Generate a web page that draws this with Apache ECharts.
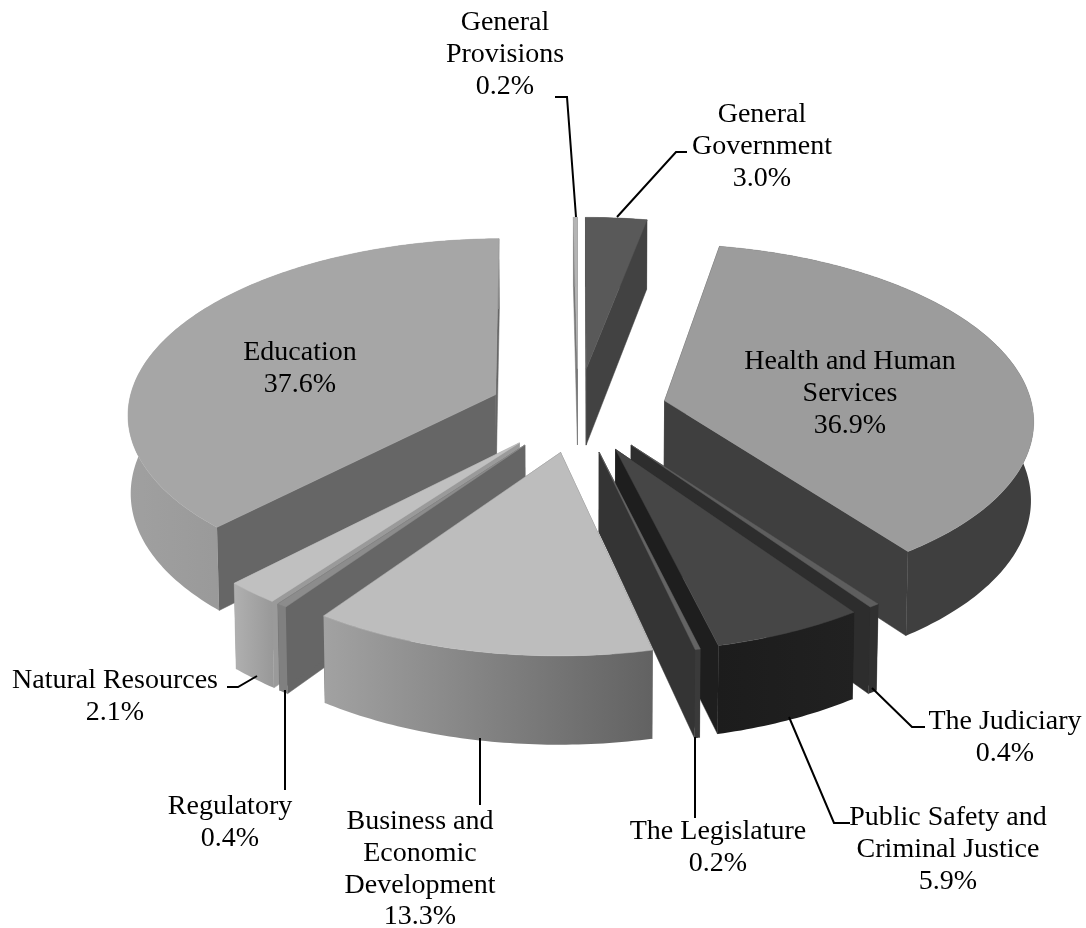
<!DOCTYPE html>
<html><head><meta charset="utf-8">
<style>html,body{margin:0;padding:0;background:#fff}#c{width:1086px;height:928px}</style>
<script src="https://cdn.jsdelivr.net/npm/echarts@6/dist/echarts.min.js"></script>
</head><body><div id="c"></div>
<script>
const categories = ['General\nGovernment','Health and Human\nServices','The Judiciary','Public Safety and\nCriminal Justice','The Legislature','Business and\nEconomic\nDevelopment','Regulatory','Natural Resources','Education','General\nProvisions'];
const shares = [3.0,36.9,0.4,5.9,0.2,13.3,0.4,2.1,37.6,0.2];
const topColors = ['#595959','#9c9c9c','#5e5e5e','#464646','#646464','#bdbdbd','#8c8c8c','#c0c0c0','#a6a6a6','#b4b4b4'];
const wallColors = ['#424242','#3f3f3f','#2d2d2d','#1e1e1e','#343434','#666666','#666666','#9a9a9a','#666666','#777777'];
const rimFrom = ['#424242','#3f3f3f','#303030','#1c1c1c','#3a3a3a','#a2a2a2','#808080','#b0b0b0','#a0a0a0','#888888'];
const rimTo = ['#424242','#3f3f3f','#303030','#212121','#3a3a3a','#626262','#808080','#989898','#868686','#888888'];
// label block centre x / first line centre y, then leader polyline
const labelAt = [
  [762,113,[[687,152],[676,152],[617,217]]],
  [850,360,null],
  [1005,720,[[925,727],[912,727],[872,688]]],
  [948,816,[[850,823],[834,823],[789,717]]],
  [718,830,[[695,818],[695,737]]],
  [420,820,[[480,805],[480,738]]],
  [230,805,[[285,790],[285,690]]],
  [115,679,[[227,687],[238,687],[257,676]]],
  [300,351,null],
  [505,21,[[555,97],[567,97],[576,217]]]
];
const CX=578, CY=410, AX=372, AY=176, PERSP=0.1, EXPLODE=0.24, RADIUS=0.99, DEPTH=78, LH=31.6, TEXT_DY=2;
const FONT='"Liberation Serif", serif';

const total = shares.reduce((a,b)=>a+b,0);
const starts = []; shares.reduce((acc,v,i)=>{starts[i]=acc; return acc+v;},0);

function proj(u,v,h){
  const w = 1+PERSP*v;
  return [CX+AX*u/w*(1-0.006*h), CY-AY*v/w+DEPTH*h/w];
}
function renderSlice(params, api){
  const i = params.dataIndex, val = api.value(0);
  const a0 = starts[i]/total*2*Math.PI, a1 = (starts[i]+val)/total*2*Math.PI, mid=(a0+a1)/2;
  const ou = EXPLODE*Math.sin(mid), ov = EXPLODE*Math.cos(mid);
  const pt = (a,r,h)=>proj(ou+r*RADIUS*Math.sin(a), ov+r*RADIUS*Math.cos(a), h);
  const n = Math.max(2,Math.ceil((a1-a0)/0.015));
  const arc = h=>{const o=[];for(let k=0;k<=n;k++)o.push(pt(a0+(a1-a0)*k/n,1,h));return o;};
  const top=arc(0), bot=arc(1);
  const base = Math.round(-Math.cos(mid)*100+200)*10;
  const wall = a=>({type:'polygon',z2:base,silent:true,
    shape:{points:[pt(a,0,0),pt(a,1,0),pt(a,1,1),pt(a,0,1)]},
    style:{fill:wallColors[i],stroke:wallColors[i],lineWidth:0.5}});
  const rimFill = {type:'linear',x:0,y:0,x2:1,y2:0,colorStops:[{offset:0,color:rimFrom[i]},{offset:1,color:rimTo[i]}]};
  return {type:'group',children:[
    wall(a0),wall(a1),
    {type:'polygon',z2:base+1,silent:true,shape:{points:top.concat(bot.slice().reverse())},style:{fill:rimFill,stroke:null}},
    {type:'polygon',z2:base+2,silent:true,shape:{points:[pt(a0,0,0)].concat(top)},style:{fill:topColors[i],stroke:topColors[i],lineWidth:0.5}}
  ]};
}
function renderLabel(params, api){
  const i = params.dataIndex, L = labelAt[i];
  const text = categories[i]+'\n'+api.value(0).toFixed(1)+'%';
  const kids = [{type:'text',z2:9000,silent:true,x:L[0],y:L[1]-LH/2+TEXT_DY,
    style:{text:text,fill:'#000',font:'28px '+FONT,align:'center',verticalAlign:'top',lineHeight:LH}}];
  if(L[2]) kids.push({type:'polyline',z2:8999,silent:true,shape:{points:L[2]},style:{stroke:'#000',lineWidth:2,fill:null}});
  return {type:'group',children:kids};
}
const chart = echarts.init(document.getElementById('c'),null,{renderer:'canvas'});
const data = shares.map((v,i)=>({name:categories[i].replace(/\n/g,' '),value:[v]}));
chart.setOption({
  backgroundColor:'#fff',animation:false,
  series:[
    {type:'custom',coordinateSystem:'none',renderItem:renderSlice,data:data,encode:{value:0},silent:true},
    {type:'custom',coordinateSystem:'none',renderItem:renderLabel,data:data,encode:{value:0},silent:true,z:5}
  ]
});
</script></body></html>
